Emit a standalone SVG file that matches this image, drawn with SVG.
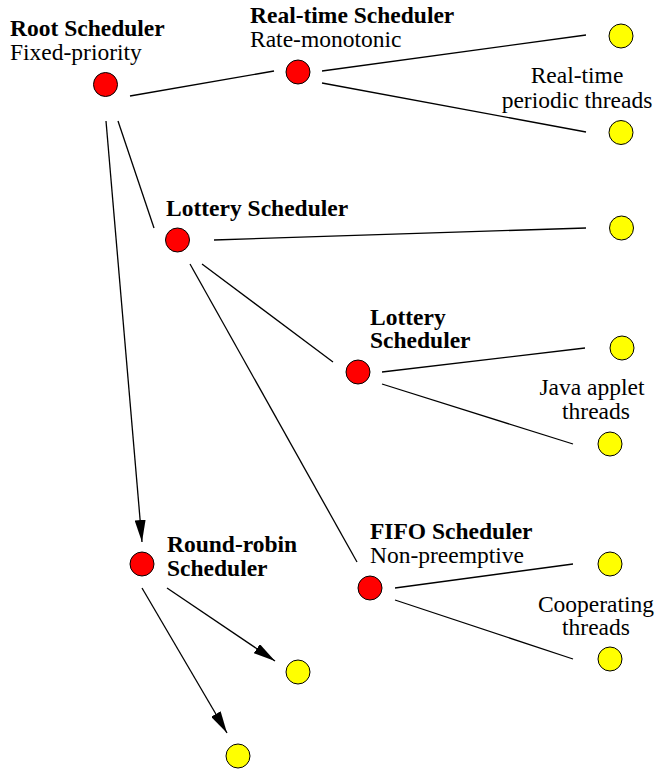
<svg xmlns="http://www.w3.org/2000/svg" width="657" height="772" viewBox="0 0 657 772">
<style>
.sched{fill:#ff0000;stroke:#000;stroke-width:1}
.thr{fill:#ffff00;stroke:#000;stroke-width:1}
.b{font-weight:bold}
.m{text-anchor:middle}
.c line{stroke:#000;stroke-width:1.3}
</style>
<defs>
<marker id="ah" markerUnits="userSpaceOnUse" markerWidth="22" markerHeight="11" refX="22" refY="5.5" orient="auto">
<path d="M0,0 L22,5.5 L0,11 z" fill="#000"/>
</marker>
</defs>
<rect width="657" height="772" fill="#fff"/>
<g id="connectors" class="c">
<line x1="130" y1="96" x2="274" y2="71"/>
<line x1="322" y1="71" x2="586" y2="35"/>
<line x1="322" y1="83" x2="586" y2="132"/>
<line x1="118" y1="121" x2="154" y2="228"/>
<line x1="106" y1="121" x2="142" y2="542" marker-end="url(#ah)"/>
<line x1="214" y1="240" x2="586" y2="228"/>
<line x1="202" y1="264" x2="333" y2="362"/>
<line x1="190" y1="264" x2="357" y2="562"/>
<line x1="382" y1="372" x2="585" y2="348"/>
<line x1="382" y1="384" x2="573" y2="444"/>
<line x1="395" y1="588" x2="573" y2="564"/>
<line x1="395" y1="600" x2="573" y2="659"/>
<line x1="167" y1="588" x2="275" y2="661" marker-end="url(#ah)"/>
<line x1="142" y1="588" x2="227" y2="733" marker-end="url(#ah)"/>
</g>
<g id="nodes" font-family="Liberation Serif, Times New Roman, serif" font-size="23.5" fill="#000">
<g id="root">
<circle class="sched" cx="105.5" cy="84.5" r="12"/>
<text class="b" x="10" y="36">Root Scheduler</text>
<text x="10" y="60">Fixed-priority</text>
</g>
<g id="realtime">
<circle class="sched" cx="298" cy="72" r="12"/>
<text class="b" x="250" y="23">Real-time Scheduler</text>
<text x="250" y="47">Rate-monotonic</text>
</g>
<g id="rt-thread1"><circle class="thr" cx="621" cy="36" r="12"/></g>
<g id="rt-thread2"><circle class="thr" cx="621" cy="132.5" r="12"/></g>
<g id="rt-label"><text class="m" x="577" y="83">Real-time</text><text class="m" x="577" y="108">periodic threads</text></g>
<g id="lottery">
<circle class="sched" cx="177.5" cy="240" r="12"/>
<text class="b" x="166" y="216">Lottery Scheduler</text>
</g>
<g id="lottery-thread"><circle class="thr" cx="621.5" cy="228" r="12"/></g>
<g id="lottery2">
<circle class="sched" cx="358" cy="372" r="12"/>
<text class="b" x="370" y="325">Lottery</text>
<text class="b" x="370" y="348">Scheduler</text>
</g>
<g id="java-thread1"><circle class="thr" cx="622" cy="348" r="12"/></g>
<g id="java-thread2"><circle class="thr" cx="610" cy="444" r="12"/></g>
<g id="java-label"><text class="m" x="592" y="395">Java applet</text><text class="m" x="596" y="419">threads</text></g>
<g id="fifo">
<circle class="sched" cx="370" cy="588" r="12"/>
<text class="b" x="370" y="539">FIFO Scheduler</text>
<text x="370" y="563">Non-preemptive</text>
</g>
<g id="coop-thread1"><circle class="thr" cx="610" cy="564" r="12"/></g>
<g id="coop-thread2"><circle class="thr" cx="610" cy="659" r="12"/></g>
<g id="coop-label"><text class="m" x="596" y="612">Cooperating</text><text class="m" x="596" y="635">threads</text></g>
<g id="roundrobin">
<circle class="sched" cx="142" cy="564" r="12"/>
<text class="b" x="167" y="552">Round-robin</text>
<text class="b" x="167" y="576">Scheduler</text>
</g>
<g id="rr-thread1"><circle class="thr" cx="298" cy="672" r="12"/></g>
<g id="rr-thread2"><circle class="thr" cx="238" cy="756" r="12"/></g>
</g>
</svg>
